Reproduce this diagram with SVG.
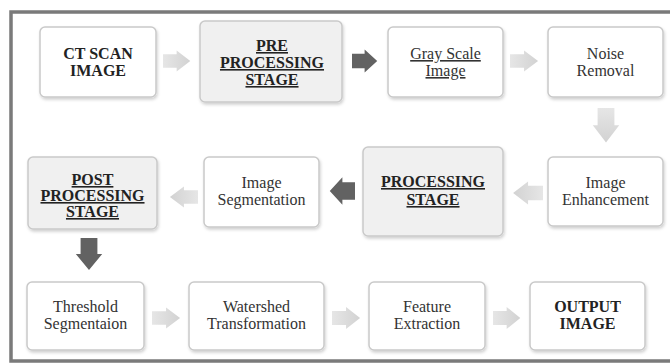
<svg xmlns="http://www.w3.org/2000/svg" xmlns:xlink="http://www.w3.org/1999/xlink" width="670" height="363" viewBox="0 0 670 363" font-family="Liberation Serif, DejaVu Serif, serif">
<style>
.box{fill:#ffffff;stroke:#c9c9c9;stroke-width:1.5;filter:url(#sh)}
.sbox{fill:#f0f0f0;stroke:#c9c9c9;stroke-width:1.5;filter:url(#sh)}
.t{font-size:16px;text-anchor:middle;fill:#333}
.b{font-weight:bold;fill:#222}
.u{text-decoration:underline}
.la{fill:url(#lg)}
.da{fill:#626262}
</style>
<defs>
<filter id="sh" x="-10%" y="-10%" width="125%" height="130%">
<feDropShadow dx="1" dy="2" stdDeviation="1.5" flood-color="#000" flood-opacity="0.18"/>
</filter>
<linearGradient id="lg" x1="0" y1="0" x2="1" y2="0">
<stop offset="0" stop-color="#e6e6e6"/>
<stop offset="1" stop-color="#d2d2d2"/>
</linearGradient>
<path id="ra" d="M0,-7 H13 V-11 L26,0 L13,11 V7 H0 Z"/>
</defs>
<rect x="11" y="12" width="700" height="349" fill="#fff" stroke="#7a7a7a" stroke-width="3.5"/>

<g id="connectors">
<use xlink:href="#ra" class="la" transform="translate(163,61) scale(1.05,0.95)"/>
<use xlink:href="#ra" class="da" transform="translate(352,61) scale(0.97,1.05)"/>
<use xlink:href="#ra" class="la" transform="translate(510,61) scale(1.08,0.95)"/>
<use xlink:href="#ra" class="la" transform="translate(606,108) rotate(90) scale(1.33,1.2)"/>
<use xlink:href="#ra" class="la" transform="translate(543,193) rotate(180) scale(1.15,1.05)"/>
<use xlink:href="#ra" class="da" transform="translate(355,191) rotate(180) scale(0.97,1.25)"/>
<use xlink:href="#ra" class="la" transform="translate(198,197) rotate(180) scale(1.08,0.95)"/>
<use xlink:href="#ra" class="da" transform="translate(89,238) rotate(90) scale(1.23,1.2)"/>
<use xlink:href="#ra" class="la" transform="translate(152,318) scale(1.08,0.95)"/>
<use xlink:href="#ra" class="la" transform="translate(332,318) scale(1.08,1.0)"/>
<use xlink:href="#ra" class="la" transform="translate(493,318) scale(1.05,1.0)"/>
</g>

<g id="ct-scan">
<rect class="box" x="40" y="27" width="116" height="70" rx="5"/>
<text class="t b" x="98" y="59">CT SCAN</text>
<text class="t b" x="98" y="76">IMAGE</text>
</g>
<g id="pre-processing">
<rect class="sbox" x="200" y="21" width="142" height="81" rx="5"/>
<text class="t b u" x="272" y="51">PRE</text>
<text class="t b u" x="272" y="68">PROCESSING</text>
<text class="t b u" x="272" y="85">STAGE</text>
</g>
<g id="gray-scale">
<rect class="box" x="388" y="27" width="115" height="70" rx="5"/>
<text class="t u" x="445.5" y="59">Gray Scale</text>
<text class="t u" x="445.5" y="76">Image</text>
</g>
<g id="noise-removal">
<rect class="box" x="548" y="27" width="115" height="70" rx="5"/>
<text class="t" x="605.5" y="59">Noise</text>
<text class="t" x="605.5" y="76">Removal</text>
</g>
<g id="post-processing">
<rect class="sbox" x="28" y="157" width="129" height="72" rx="5"/>
<text class="t b u" x="92.5" y="185">POST</text>
<text class="t b u" x="92.5" y="201">PROCESSING</text>
<text class="t b u" x="92.5" y="217">STAGE</text>
</g>
<g id="image-segmentation">
<rect class="box" x="204" y="157" width="115" height="70" rx="5"/>
<text class="t" x="261.5" y="188">Image</text>
<text class="t" x="261.5" y="205">Segmentation</text>
</g>
<g id="processing">
<rect class="sbox" x="363" y="147" width="140" height="89" rx="5"/>
<text class="t b u" x="433" y="187">PROCESSING</text>
<text class="t b u" x="433" y="205">STAGE</text>
</g>
<g id="image-enhancement">
<rect class="box" x="548" y="157" width="115" height="69" rx="5"/>
<text class="t" x="605.5" y="188">Image</text>
<text class="t" x="605.5" y="205">Enhancement</text>
</g>
<g id="threshold">
<rect class="box" x="27" y="282" width="117" height="68" rx="5"/>
<text class="t" x="85.5" y="312">Threshold</text>
<text class="t" x="85.5" y="329">Segmentaion</text>
</g>
<g id="watershed">
<rect class="box" x="189" y="282" width="135" height="68" rx="5"/>
<text class="t" x="256.5" y="312">Watershed</text>
<text class="t" x="256.5" y="329">Transformation</text>
</g>
<g id="feature">
<rect class="box" x="369" y="282" width="116" height="68" rx="5"/>
<text class="t" x="427" y="312">Feature</text>
<text class="t" x="427" y="329">Extraction</text>
</g>
<g id="output">
<rect class="box" x="530" y="282" width="115" height="68" rx="5"/>
<text class="t b" x="587.5" y="312">OUTPUT</text>
<text class="t b" x="587.5" y="329">IMAGE</text>
</g>
</svg>
